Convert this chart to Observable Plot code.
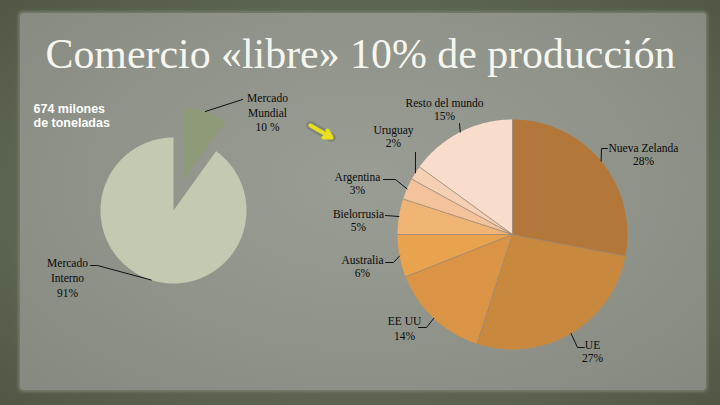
<!DOCTYPE html>
<html><head><meta charset="utf-8">
<script src="https://cdn.jsdelivr.net/npm/d3@7"></script>
<script src="https://cdn.jsdelivr.net/npm/@observablehq/plot@0.6"></script>
<style>
html,body{margin:0;padding:0;width:720px;height:405px;overflow:hidden;background:#5e6651;}
#bg{position:absolute;left:0;top:0;width:720px;height:405px;background:radial-gradient(ellipse at 50% 50%, #68715c 0%, #5b6450 70%, #505845 100%);}
#panel{position:absolute;left:20px;top:13px;width:686px;height:377px;background:radial-gradient(ellipse at 50% 45%, #999d94 0%, #8f9389 55%, #85897f 100%);border-radius:3px;box-shadow:0 0 3px 2px rgba(125,130,114,0.8);}
#chart{position:absolute;left:0;top:0;}
#chart svg{background:transparent !important;}
</style></head><body>
<div id="bg"></div><div id="panel"></div><div id="chart"></div>
<script>
// ---- data ----
const title = "Comercio «libre» 10% de producción";
const note = ["674 milones", "de toneladas"];
const leftCategories = ["Mercado Mundial", "Mercado Interno"];
const leftValues = [10, 91];
const leftLabels = ["Mercado\nMundial\n10 %", "Mercado\nInterno\n91%"];
const rightCategories = ["Nueva Zelanda","UE","EE UU","Australia","Bielorrusia","Argentina","Uruguay","Resto del mundo"];
const rightValues = [28, 27, 14, 6, 5, 3, 2, 15];
const rightLabels = ["Nueva Zelanda\n28%","UE\n27%","EE UU\n14%","Australia\n6%","Bielorrusia\n5%","Argentina\n3%","Uruguay\n2%","Resto del mundo\n15%"];

// ---- styles ----
const leftColors = ["#8e9a78", "#c4cab2"];
const rightColors = ["#b3773a","#c8893e","#db9446","#e9a24e","#f0b474","#f3c49c","#f5d0b5","#f8ddcc"];

// ---- layout ----
const leftPie = {cx: 173, cy: 210, r: 73, explode: {"Mercado Mundial": 31}};
const rightPie = {cx: 512, cy: 234, r: 115, explode: {}};
const labelLayout = {
  "Mercado Mundial": {x: 267, y: 98, dy: 14.5, leader: [[242, 99]]},
  "Mercado Interno": {x: 67, y: 263, dy: 15, leader: [[90, 265], [97, 265]]},
  "Nueva Zelanda": {x: 643, y: 148, dy: 13, leader: [[607, 148], [601, 148]]},
  "UE": {x: 592, y: 345, dy: 13, leader: [[584, 347], [577, 347]]},
  "EE UU": {x: 404, y: 321, dy: 15, leader: [[418, 327], [426, 327]]},
  "Australia": {x: 362, y: 260, dy: 13, leader: [[385, 262], [393, 262]]},
  "Bielorrusia": {x: 358, y: 214, dy: 13, leader: [[385, 215]]},
  "Argentina": {x: 357, y: 177, dy: 12.5, leader: [[383, 179], [395, 179]]},
  "Uruguay": {x: 393, y: 130, dy: 13, leader: [[415, 152]]},
  "Resto del mundo": {x: 444, y: 103, dy: 12.5, leader: [[459, 123]]}
};

function slices(cats, vals, pie) {
  const arcs = d3.pie().sort(null).value(d => d[1]).startAngle(0).endAngle(2 * Math.PI)(d3.zip(cats, vals));
  const pts = [], mids = {}, seps = [];
  for (const a of arcs) {
    const name = a.data[0];
    const mid = (a.startAngle + a.endAngle) / 2;
    const e = pie.explode[name] || 0;
    const ox = pie.cx + e * Math.sin(mid), oy = pie.cy - e * Math.cos(mid);
    pts.push({name, x: ox, y: oy});
    const n = Math.max(2, Math.ceil((a.endAngle - a.startAngle) / 0.01));
    for (let i = 0; i <= n; i++) {
      const t = a.startAngle + (a.endAngle - a.startAngle) * i / n;
      pts.push({name, x: ox + pie.r * Math.sin(t), y: oy - pie.r * Math.cos(t)});
    }
    pts.push({name, x: ox, y: oy});
    mids[name] = [ox + pie.r * Math.sin(mid), oy - pie.r * Math.cos(mid)];
    seps.push({x1: ox, y1: oy, x2: ox + pie.r * Math.sin(a.startAngle), y2: oy - pie.r * Math.cos(a.startAngle)});
  }
  return {pts, mids, seps};
}

const L = slices(leftCategories, leftValues, leftPie);
const R = slices(rightCategories, rightValues, rightPie);
const mids = {...L.mids, ...R.mids};

const allCats = [...leftCategories, ...rightCategories];
const allLabels = [...leftLabels, ...rightLabels];
const leaders = [];
const labelLines = [];
allCats.forEach((c, i) => {
  const lay = labelLayout[c];
  [...lay.leader, mids[c]].forEach(p => leaders.push({name: c, x: p[0], y: p[1]}));
  allLabels[i].split("\n").forEach((t, j) => labelLines.push({x: lay.x, y: lay.y + j * lay.dy, text: t}));
});

const chart = Plot.plot({
  width: 720, height: 405, margin: 0,
  x: {domain: [0, 720], range: [0, 720], axis: null},
  y: {domain: [0, 405], range: [0, 405], axis: null},
  color: {domain: allCats, range: [...leftColors, ...rightColors]},
  style: {background: "transparent"},
  marks: [
    Plot.line(L.pts, {x: "x", y: "y", z: "name", fill: "name", stroke: "none"}),
    Plot.line(R.pts, {x: "x", y: "y", z: "name", fill: "name", stroke: "none"}),
    Plot.link(R.seps, {x1: "x1", y1: "y1", x2: "x2", y2: "y2", stroke: "#9a8672", strokeWidth: 0.8}),
    Plot.line(leaders, {x: "x", y: "y", z: "name", stroke: "#111", strokeWidth: 1}),
    Plot.text(labelLines, {x: "x", y: "y", text: "text", fontFamily: "Liberation Serif", fontSize: 11.5, fill: "#0a0a0a", lineAnchor: "middle"}),
    Plot.text(note.map((t, i) => ({x: 33, y: 112 + i * 14, text: t})), {x: "x", y: "y", text: "text", textAnchor: "start", lineAnchor: "bottom", fontFamily: "Liberation Sans", fontWeight: "bold", fontSize: 12.5, fill: "white"}),
    Plot.arrow([{x1: 310, y1: 125, x2: 331, y2: 137}], {x1: "x1", y1: "y1", x2: "x2", y2: "y2", stroke: "#6c715e", strokeWidth: 9, strokeOpacity: 0.45, headLength: 0}),
    Plot.arrow([{x1: 310, y1: 125, x2: 331, y2: 137}], {x1: "x1", y1: "y1", x2: "x2", y2: "y2", stroke: "#e8e01e", strokeWidth: 4, headLength: 5}),
    Plot.text([{x: 360, y: 67, text: title}], {x: "x", y: "y", text: "text", lineAnchor: "bottom", fontFamily: "Liberation Serif", fontSize: 43, fill: "#f6f6f0"})
  ]
});
for (const t of chart.querySelectorAll("text")) {
  if (t.textContent === title) {
    t.setAttribute("textLength", 630);
    t.setAttribute("lengthAdjust", "spacingAndGlyphs");
  }
}
document.getElementById("chart").appendChild(chart);
</script></body></html>
